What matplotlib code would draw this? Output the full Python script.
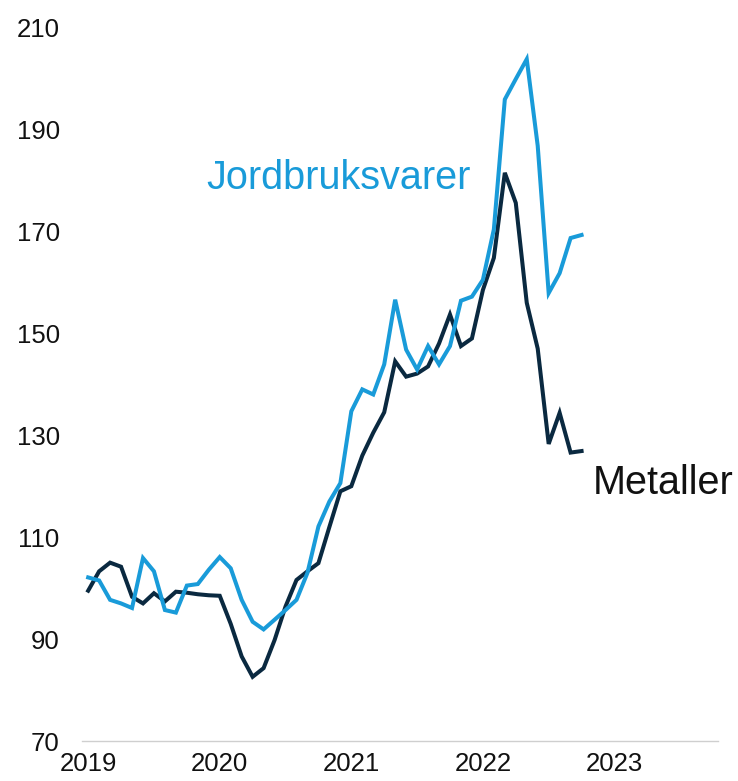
import matplotlib
matplotlib.use('Agg')
import matplotlib.pyplot as plt
import numpy as np

# monthly index, Jan 2019 .. Oct 2022
years = ['2019', '2020', '2021', '2022', '2023']

metaller = [99.5, 103.3, 105.0, 104.2, 98.3, 97.0, 99.0, 97.4, 99.3, 99.1,
            98.8, 98.6, 98.5, 93.0, 86.6, 82.6, 84.3, 89.8, 96.4, 101.6,
            103.3, 104.9, 112.0, 119.0, 120.0, 126.0, 130.5, 134.5, 144.5, 141.5,
            142.1, 143.5, 148.0, 153.7, 147.5, 149.0, 158.5, 164.8, 181.5, 175.6,
            156.0, 147.0, 128.3, 134.4, 126.6, 126.9]

jordbruk = [102.1, 101.5, 97.7, 97.0, 96.1, 105.9, 103.3, 95.7, 95.2, 100.5,
            100.8, 103.6, 106.1, 103.9, 97.7, 93.4, 91.9, 93.8, 95.7, 97.7,
            103.0, 112.1, 117.0, 120.6, 134.7, 139.0, 138.0, 143.9, 156.6, 146.8,
            142.9, 147.5, 143.9, 147.5, 156.4, 157.2, 160.5, 170.4, 195.9, 199.9,
            203.8, 186.8, 157.9, 161.8, 168.7, 169.3]

blue = '#199bd9'
navy = '#0a2940'

plt.rcParams['font.family'] = ['Liberation Sans', 'DejaVu Sans']

fig = plt.figure(figsize=(7.38, 7.81), dpi=100)
ax = fig.add_axes([0.111, 0.0512, 0.862, 0.9135])

x = np.arange(len(metaller))
ax.plot(x, metaller, color=navy, lw=2.9, solid_joinstyle='miter')
ax.plot(x, jordbruk, color=blue, lw=2.9, solid_joinstyle='miter')

ax.text(10.8, 180.5, 'Jordbruksvarer', color=blue, fontsize=28.5, va='center', ha='left')
ax.text(46.05, 120.6, 'Metaller', color='#111111', fontsize=28.5, va='center', ha='left')

ax.set_xlim(-0.57, 57.45)
ax.set_ylim(70, 210)
ax.set_yticks(np.arange(70, 211, 20))
ax.set_xticks(np.arange(len(years)) * 12)
ax.set_xticklabels(years)

for s in ['top', 'right', 'left']:
    ax.spines[s].set_visible(False)
ax.spines['bottom'].set_color('#cfcfcf')
ax.spines['bottom'].set_linewidth(1.0)
ax.tick_params(axis='both', length=0, labelsize=18.5, colors='#111111')
ax.tick_params(axis='y', pad=16)
ax.tick_params(axis='x', pad=8)

fig.savefig('out.png', dpi=100)
